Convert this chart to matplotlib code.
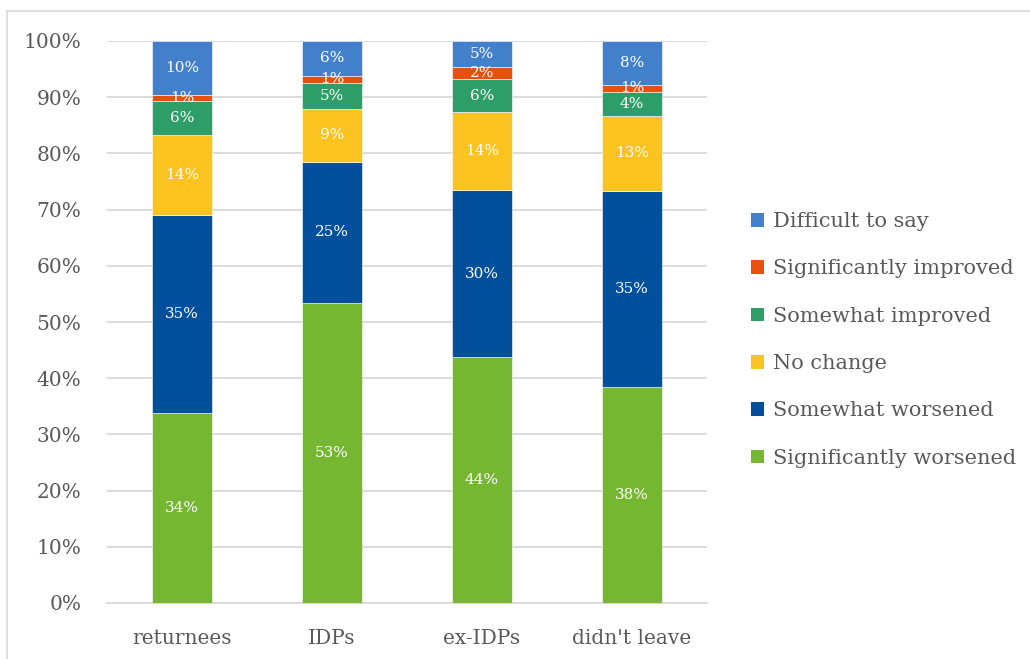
import matplotlib
matplotlib.use("Agg")
import matplotlib.pyplot as plt
from matplotlib.lines import Line2D
from matplotlib.patches import Patch
import numpy as np

groups = ["returnees", "IDPs", "ex-IDPs", "didn't leave"]
series = ["Significantly worsened", "Somewhat worsened", "No change",
          "Somewhat improved", "Significantly improved", "Difficult to say"]
sig_worse = [33.8, 53.4, 43.8, 38.4]
some_worse = [35.2, 25.1, 29.6, 34.9]
no_change = [14.3, 9.4, 13.9, 13.4]
some_better = [6.0, 4.6, 5.9, 4.3]
sig_better = [1.1, 1.3, 2.1, 1.1]
hard_to_say = [9.6, 6.2, 4.7, 7.9]
colors = ["#76B732", "#024F9C", "#FAC31F", "#2E9E68", "#E8500E", "#4380CC"]

FONT = "DejaVu Serif"
GREY = "#595959"

fig = plt.figure(figsize=(10.30, 6.59), dpi=100)
ax = fig.add_axes([107/1030, 56/659, 600/1030, 562/659])

x = np.arange(len(groups))
bottom = np.zeros(len(groups))
handles = []
for name, vals, col in zip(series, [sig_worse, some_worse, no_change, some_better, sig_better, hard_to_say], colors):
    vals = np.array(vals)
    ax.bar(x, vals, 0.4, bottom=bottom, color=col, edgecolor="white", linewidth=0.4, zorder=3)
    for xi, b, v in zip(x, bottom, vals):
        ax.text(xi, b + v / 2, f"{v:.0f}%", ha="center", va="center", color="white",
                fontsize=11, family=FONT, zorder=4)
    bottom += vals
    handles.append(Patch(facecolor=col, label=name))

ax.set_xlim(-0.5, 3.5)
ax.set_ylim(0, 100)
ax.set_yticks(np.arange(0, 101, 10))
ax.set_yticklabels([f"{t}%" for t in range(0, 101, 10)])
ax.set_xticks(x)
ax.set_xticklabels(groups)
ax.grid(axis="y", color="#D9D9D9", linewidth=1.3, zorder=0)
for s in ["top", "right", "left"]:
    ax.spines[s].set_visible(False)
ax.spines["bottom"].set_color("#D9D9D9")
ax.spines["bottom"].set_linewidth(1.3)
ax.tick_params(length=0, labelcolor=GREY, labelsize=14.5)
ax.tick_params(axis="y", pad=18.5)
ax.tick_params(axis="x", pad=18.5)
for lab in ax.get_xticklabels() + ax.get_yticklabels():
    lab.set_family(FONT)

leg = fig.legend(handles=handles[::-1], loc="center left", bbox_to_anchor=(732/1030, 1 - 340/659),
                 frameon=False, prop={"family": FONT, "size": 15}, handlelength=0.65, handleheight=0.65,
                 handletextpad=0.4, labelspacing=1.36, labelcolor=GREY)

# light frame around the chart
fig.add_artist(Line2D([7/1030, 7/1030], [0, 1 - 11/659], transform=fig.transFigure, color="#D9D9D9", lw=1.2))
fig.add_artist(Line2D([7/1030, 1], [1 - 11/659, 1 - 11/659], transform=fig.transFigure, color="#D9D9D9", lw=1.2))

fig.savefig("out.png", dpi=100)
